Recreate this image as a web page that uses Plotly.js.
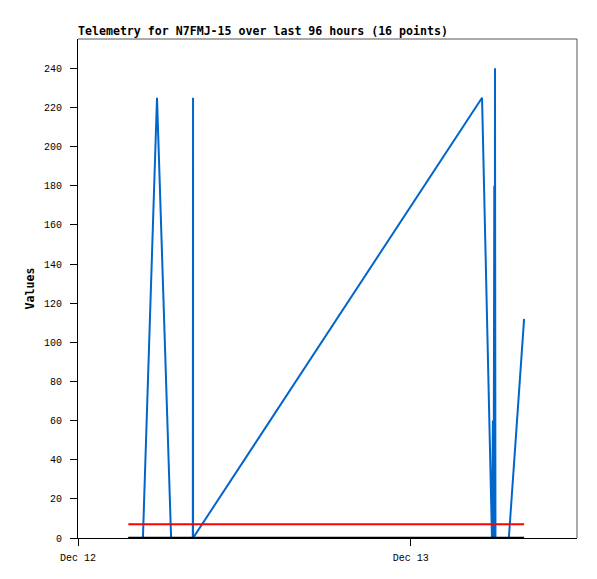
<!DOCTYPE html>
<html>
<head>
<meta charset="utf-8">
<script src="https://cdn.plot.ly/plotly-3.0.1.min.js"></script>
<style>html,body{margin:0;padding:0;background:#fff;}#chart{width:597px;height:579px;}</style>
</head>
<body>
<div id="chart"></div>
<script>
// Telemetry series (blue)
const blueTimes = [
  '2024-12-12 03:38', '2024-12-12 04:41', '2024-12-12 05:42', '2024-12-12 06:43',
  '2024-12-12 08:17', '2024-12-12 08:18', '2024-12-12 08:18', '2024-12-13 05:09',
  '2024-12-13 05:52', '2024-12-13 05:56', '2024-12-13 05:59', '2024-12-13 06:02',
  '2024-12-13 06:04', '2024-12-13 06:05', '2024-12-13 06:07', '2024-12-13 07:05',
  '2024-12-13 08:11'
];
const blueValues = [0, 0, 225, 0, 0, 225, 0, 225, 0, 60, 0, 180, 0, 240, 0, 0, 112];

// Constant channels
const flatTimes = ['2024-12-12 03:38', '2024-12-13 08:11'];
const redValues = [7, 7];
const blackValues = [0, 0];

// Axis info
const xRange = ['2024-12-12 00:00', '2024-12-13 12:00'];
const yRange = [0, 255];
const titleText = 'Telemetry for N7FMJ-15 over last 96 hours (16 points)';
const yTitle = 'Values';

const traces = [
  {x: blueTimes, y: blueValues, type: 'scatter', mode: 'lines',
   line: {color: '#0066CC', width: 2}, hoverinfo: 'skip'},
  {x: flatTimes, y: redValues, type: 'scatter', mode: 'lines',
   line: {color: '#FF0000', width: 2}, hoverinfo: 'skip'},
  {x: flatTimes, y: blackValues, type: 'scatter', mode: 'lines',
   line: {color: '#000000', width: 2.5}, hoverinfo: 'skip'}
];

const layout = {
  width: 597, height: 579,
  margin: {l: 78, r: 20, t: 39, b: 41, pad: 0},
  paper_bgcolor: '#ffffff', plot_bgcolor: '#ffffff',
  showlegend: false,
  title: {
    text: '<b>' + titleText + '</b>',
    font: {family: 'DejaVu Sans Mono', size: 11.6, color: '#000'},
    xref: 'paper', x: 0, xanchor: 'left',
    yref: 'paper', y: 1, yanchor: 'bottom', pad: {b: 4, l: 0}
  },
  xaxis: {
    type: 'date', range: xRange, dtick: 86400000, tick0: '2024-12-12',
    tickformat: '%b %d', ticks: 'outside', ticklen: 7, tickwidth: 1, tickcolor: '#000',
    showgrid: false, zeroline: false, showline: true, linecolor: '#000', linewidth: 1,
    tickfont: {family: 'Liberation Mono', size: 10, color: '#000'},
    ticklabelstandoff: 3
  },
  yaxis: {
    range: yRange, dtick: 20, tick0: 0, ticks: 'outside', ticklen: 7, tickwidth: 1, tickcolor: '#000',
    showgrid: false, zeroline: false, showline: true, linecolor: '#000', linewidth: 1,
    tickfont: {family: 'Liberation Mono', size: 10, color: '#000'},
    ticklabelstandoff: 6,
    title: {text: '<b>' + yTitle + '</b>', font: {family: 'DejaVu Sans Mono', size: 11.6, color: '#000'}, standoff: 6}
  },
  shapes: [
    {type: 'line', xref: 'paper', yref: 'paper', x0: 0, x1: 1, y0: 1, y1: 1, line: {color: '#555', width: 1}, layer: 'above'},
    {type: 'line', xref: 'paper', yref: 'paper', x0: 1, x1: 1, y0: 0, y1: 1, line: {color: '#555', width: 1}, layer: 'above'}
  ]
};

Plotly.newPlot('chart', traces, layout, {staticPlot: true, displayModeBar: false});
</script>
</body>
</html>
